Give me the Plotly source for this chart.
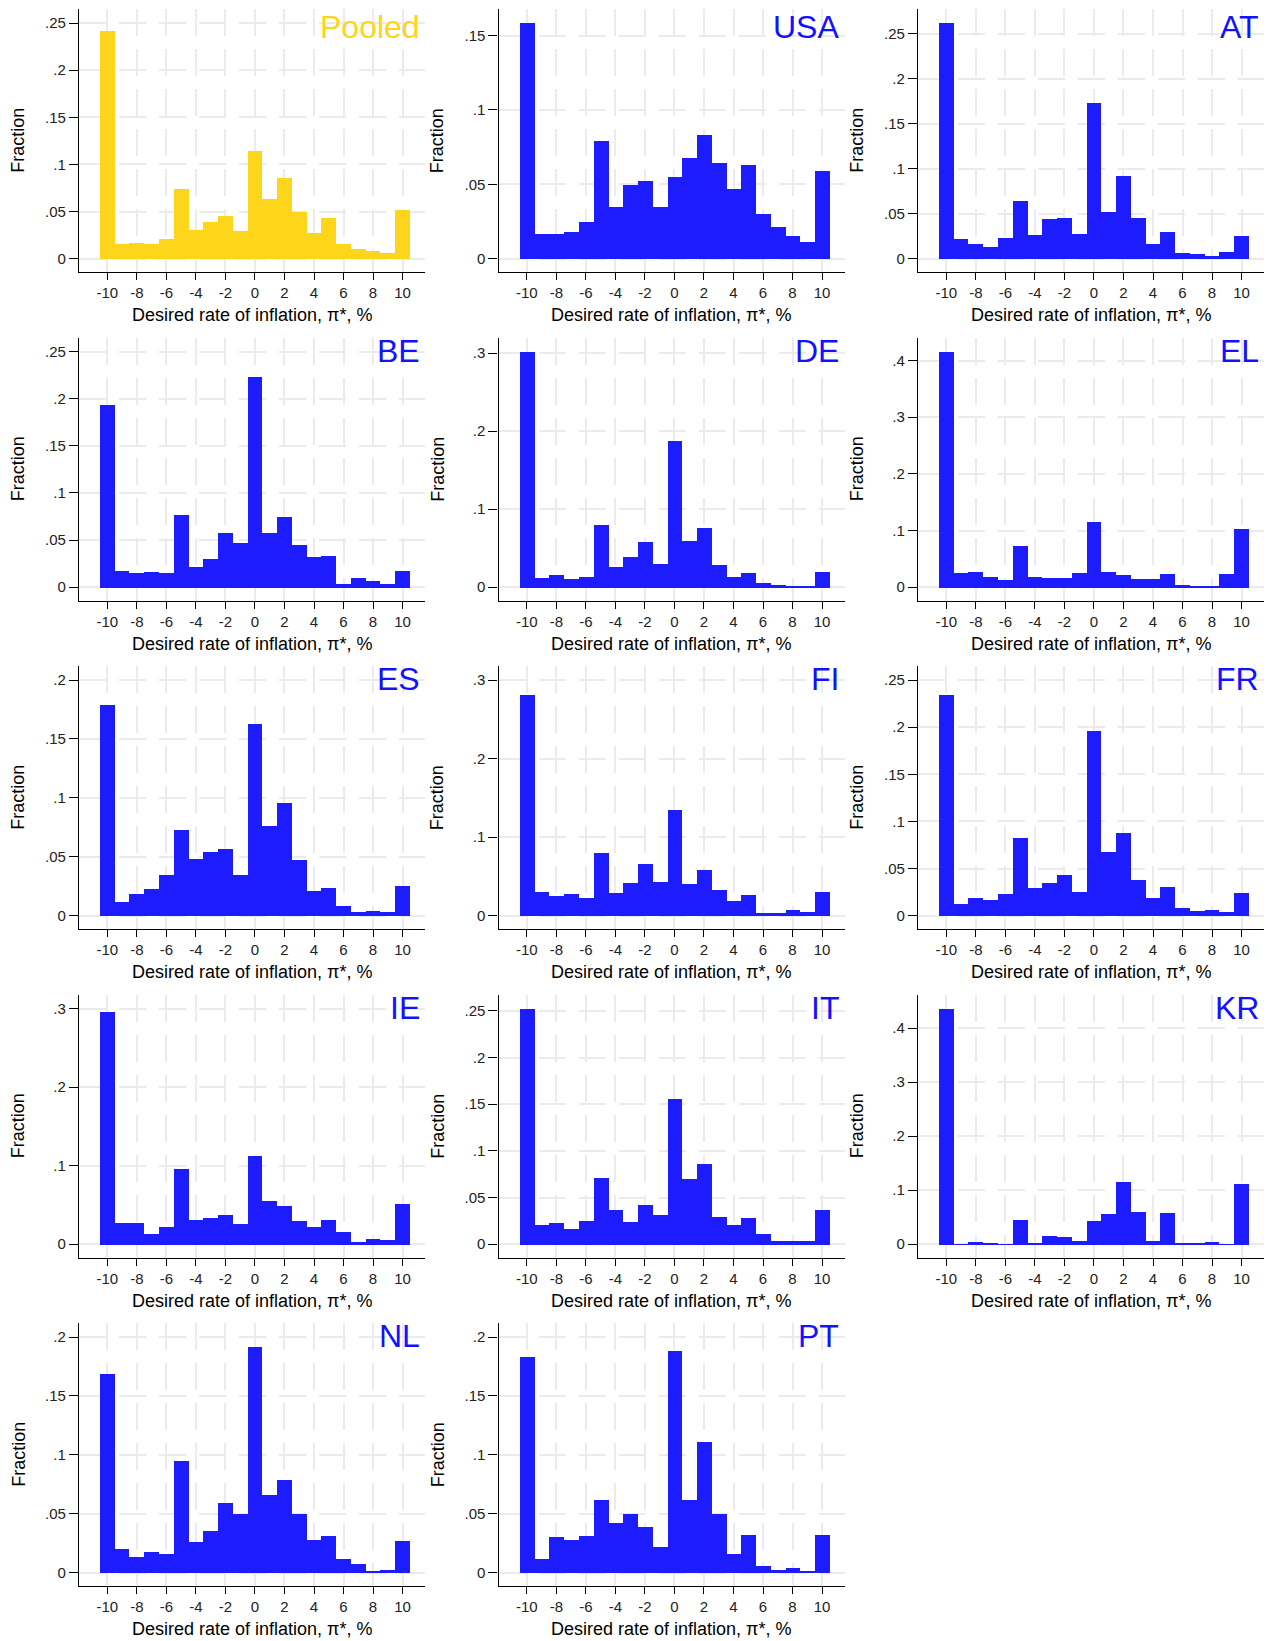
"""Histograms of desired inflation rate by country, Stata-style grid of panels."""
import plotly.graph_objects as go

# Bin centres (width 1) and x ticks
BINS = list(range(-10, 11))
X_TICKS = list(range(-10, 11, 2))

PANEL_NAMES = ["Pooled", "USA", "AT", "BE", "DE", "EL", "ES", "FI", "FR",
               "IE", "IT", "KR", "NL", "PT"]

# Fraction of respondents in each bin, -10 .. 10
POOLED = [.241, .0156, .0167, .0156, .0209, .0741, .0305, .0394, .0454, .0294, .1145,
          .0635, .0858, .050, .0273, .0433, .0156, .0103, .0082, .0062, .0518]
USA = [.1585, .0166, .0166, .018, .0247, .0791, .0348, .0496, .0522, .0348, .0549,
       .0677, .0832, .0643, .0469, .063, .030, .0213, .0152, .0112, .059]
AT = [.262, .0219, .0163, .013, .023, .064, .0263, .044, .0452, .0274, .173,
      .0519, .0919, .0452, .0163, .0296, .0063, .0052, .0035, .007, .0256]
BE = [.1943, .0177, .0156, .0163, .0156, .0773, .022, .0305, .0582, .0475, .224,
      .0582, .0752, .0454, .0326, .0337, .0039, .0103, .0071, .0039, .0177]
DE = [.302, .0124, .0162, .0111, .0137, .0803, .0265, .0393, .0585, .0303, .188,
      .0598, .0765, .029, .0137, .0188, .006, .0034, .002, .002, .0201]
EL = [.416, .0259, .0276, .0188, .0135, .0735, .0188, .0171, .0171, .0259, .1159,
      .0276, .0224, .0153, .0153, .0241, .0047, .003, .003, .0241, .1035]
ES = [.1788, .0119, .0186, .0229, .0347, .0729, .0483, .0542, .0568, .0347, .1627,
      .0763, .0958, .0475, .0212, .0237, .0085, .0034, .0042, .0034, .0254]
FI = [.281, .0305, .0254, .028, .0229, .0801, .0292, .0419, .0661, .0432, .1347,
      .0407, .0585, .033, .0191, .0267, .0038, .0038, .0076, .0051, .0305]
FR = [.234, .0128, .0191, .017, .0234, .0819, .0298, .0351, .0436, .0255, .1957,
      .0681, .0872, .0383, .0191, .0309, .0085, .0053, .0064, .0043, .0245]
IE = [.2957, .0277, .0277, .0136, .0226, .0966, .0315, .034, .0379, .0264, .1132,
      .0557, .0494, .0302, .0226, .0315, .0162, .0034, .0072, .006, .0519]
IT = [.2525, .0211, .0232, .0168, .0254, .0714, .0371, .0243, .0425, .0318, .156,
      .0704, .0864, .0296, .0211, .0286, .0114, .0039, .0039, .0039, .0371]
KR = [.4364, .0012, .0049, .0031, .0012, .0457, .0031, .016, .0142, .0068, .0438,
      .0568, .116, .0605, .0068, .0586, .0031, .0031, .0049, .0012, .1123]
NL = [.1684, .0201, .0133, .0175, .0158, .0946, .026, .0353, .059, .0497, .1912,
      .0658, .0785, .0497, .0277, .0311, .0116, .0073, .0014, .0023, .0268]
PT = [.183, .0116, .0304, .0278, .0313, .0619, .0423, .050, .0389, .0219, .188,
      .0619, .1105, .050, .0159, .0321, .0057, .0023, .004, .0006, .032]

PANEL_VALUES = [POOLED, USA, AT, BE, DE, EL, ES, FI, FR, IE, IT, KR, NL, PT]

# y tick values per panel
TICKS_05_15 = [0, .05, .1, .15]
TICKS_05_20 = [0, .05, .1, .15, .2]
TICKS_05_25 = [0, .05, .1, .15, .2, .25]
TICKS_1_3 = [0, .1, .2, .3]
TICKS_1_4 = [0, .1, .2, .3, .4]
PANEL_YTICKS = [TICKS_05_25, TICKS_05_15, TICKS_05_25, TICKS_05_25, TICKS_1_3,
                TICKS_1_4, TICKS_05_20, TICKS_1_3, TICKS_05_25, TICKS_1_3,
                TICKS_05_25, TICKS_1_4, TICKS_05_20, TICKS_05_20]

YELLOW = "#FDD51A"
BLUE = "#1C1CFF"
LABEL_BLUE = "#1212FF"
GRID = "#ebebeb"
FONT = "Liberation Sans, Arial, sans-serif"

# page body has an 8px margin: lay out in page pixels, then shift into the div
PAGE_OFF = 8
W, H = 1265, 1633
COL_LEFT = [79, 498.5, 918]
PLOT_W = 346
PLOT_H = 263
ROW_BOTTOM0 = 272
ROW_STEP = 328.5
X_RANGE = [-11.92, 11.52]
INNER_H = 235.7   # px from 0 to the top value
BOTTOM_PAD = 13.3  # px from 0 down to the x axis line
LABEL_SIZE = 32


def px_x(x):
    return (x - PAGE_OFF) / W


def px_y(y):
    return 1 - (y - PAGE_OFF) / H


def tick_label(v):
    s = f"{v:g}"
    return s[1:] if s.startswith("0.") else s


fig = go.Figure()
annotations = []

for i, (name, vals, yticks) in enumerate(zip(PANEL_NAMES, PANEL_VALUES, PANEL_YTICKS)):
    r, c = divmod(i, 3)
    left = COL_LEFT[c]
    bottom = ROW_BOTTOM0 + ROW_STEP * r
    top = bottom - PLOT_H
    sfx = "" if i == 0 else str(i + 1)

    ymax = max(max(vals), yticks[-1])
    scale = INNER_H / ymax
    y_range = [-BOTTOM_PAD / scale, ymax + (PLOT_H - INNER_H - BOTTOM_PAD) / scale]

    color = YELLOW if name == "Pooled" else BLUE
    fig.add_trace(go.Bar(
        x=BINS, y=vals, width=1, marker=dict(color=color, line=dict(width=0)),
        xaxis="x" + sfx, yaxis="y" + sfx, showlegend=False, hoverinfo="x+y",
    ))

    fig.update_layout({
        "xaxis" + sfx: dict(
            domain=[px_x(left), px_x(left + PLOT_W)], anchor="y" + sfx,
            range=X_RANGE, tickmode="array", tickvals=X_TICKS,
            ticktext=[str(t) for t in X_TICKS],
            showline=True, linecolor="black", linewidth=1.3,
            ticks="outside", ticklen=7, tickwidth=1.2, tickcolor="black",
            tickfont=dict(size=15, color="#222", family=FONT),
            showgrid=True, gridcolor=GRID, gridwidth=1.8, griddash="27px,13px",
            zeroline=False, fixedrange=True,
        ),
        "yaxis" + sfx: dict(
            domain=[px_y(bottom), px_y(top)], anchor="x" + sfx,
            range=y_range, tickmode="array", tickvals=yticks,
            ticktext=[tick_label(t) for t in yticks],
            showline=True, linecolor="black", linewidth=1.3,
            ticks="outside", ticklen=9, tickwidth=1.2, tickcolor="black",
            tickfont=dict(size=15, color="#222", family=FONT),
            showgrid=True, gridcolor=GRID, gridwidth=1.8, griddash="27px,13px",
            zeroline=False, fixedrange=True,
        ),
    })

    # panel label, top right; keep the text box inside the figure on the top row
    label_top = max(top - 6, PAGE_OFF)
    annotations.append(dict(
        text=name, xref="paper", yref="paper",
        x=px_x(left + PLOT_W - 4.5), y=px_y(label_top), xanchor="right", yanchor="top",
        borderpad=0, showarrow=False,
        font=dict(size=LABEL_SIZE, color=YELLOW if name == "Pooled" else LABEL_BLUE,
                  family=FONT),
    ))
    # y title
    annotations.append(dict(
        text="Fraction", xref="paper", yref="paper", textangle=-90,
        x=px_x(left - 60.7), y=px_y(top + PLOT_H / 2),
        xanchor="center", yanchor="middle", showarrow=False,
        font=dict(size=18, color="black", family=FONT),
    ))
    # x title
    annotations.append(dict(
        text="Desired rate of inflation, π*, %", xref="paper", yref="paper",
        x=px_x(left + PLOT_W / 2), y=px_y(bottom + 43),
        xanchor="center", yanchor="middle", showarrow=False,
        font=dict(size=18, color="black", family=FONT),
    ))

fig.update_layout(
    width=W, height=H, margin=dict(l=0, r=0, t=0, b=0),
    paper_bgcolor="white", plot_bgcolor="white",
    bargap=0, annotations=annotations, font=dict(family=FONT),
)

fig.write_html("out.html")
